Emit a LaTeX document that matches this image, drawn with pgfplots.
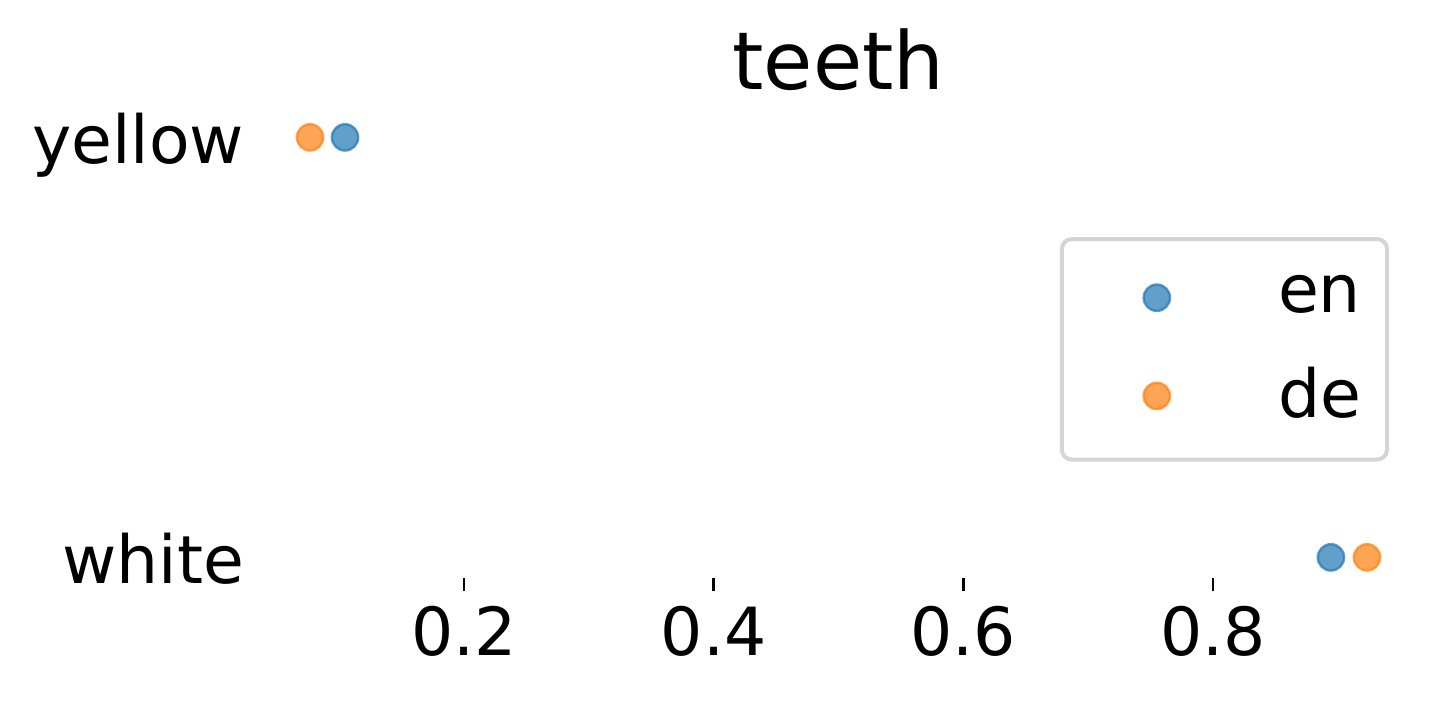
\documentclass[border=0pt]{standalone}
\usepackage{pgfplots}
\pgfplotsset{compat=1.18}
\usepackage{fontspec}
\setmainfont{DejaVu Sans}
\definecolor{tabblue}{HTML}{1F77B4}
\definecolor{taborange}{HTML}{FF7F0E}
\definecolor{legendgray}{HTML}{D5D5D5}
\newcommand{\basefont}{\fontsize{16.6}{20}\selectfont}
\begin{document}
\begin{tikzpicture}
\begin{axis}[
  name=ax,
  scale only axis,
  width=293.35pt, height=115.5pt,
  xmin=0.03, xmax=0.97, ymin=-0.05, ymax=1.05,
  axis line style={draw=none},
  xtick={0.2,0.4,0.6,0.8},
  xticklabels={0.2,0.4,0.6,0.8},
  ytick={0,1},
  yticklabels={white,yellow},
  tick align=outside,
  xtick pos=bottom,
  major tick length=3.25pt,
  ytick style={draw=none},
  xtick style={line width=0.6pt, black},
  xticklabel style={font=\basefont, anchor=north, inner sep=0pt, yshift=-3.45pt},
  yticklabel style={font=\basefont, anchor=base east, inner xsep=3pt, xshift=4.5pt, yshift=-6.5pt},
  title={teeth},
  title style={font=\fontsize{20}{24}\selectfont, anchor=base, at={(0.5,1)}, yshift=0.65pt},
  legend style={at={(rel axis cs:0.9692,0.7387)}, anchor=north east,
    draw=legendgray, line width=1pt, rounded corners=2.5pt,
    inner xsep=6.5pt, inner ysep=9.05pt, row sep=12.1pt,
    font=\basefont, nodes={inner sep=0pt},
    /tikz/every odd column/.style={column sep=4.55pt}},
  legend cell align=left,
  legend image code/.code={
    \path[draw=none, fill=none] (0pt,0pt) -- (43pt,0pt);
    \begin{pgfinterruptboundingbox}
    \draw[#1] plot coordinates {(17.25pt,-0.2pt)};
    \end{pgfinterruptboundingbox}
  },
]
\addplot[only marks, mark=*, mark size=3.3pt, line width=0.6pt,
  color=tabblue, fill opacity=0.7, draw opacity=0.7]
  coordinates {(0.1047,1) (0.8945,0)};
\addlegendentry{en}
\addplot[only marks, mark=*, mark size=3.3pt, line width=0.6pt,
  color=taborange, fill opacity=0.7, draw opacity=0.7]
  coordinates {(0.0767,1) (0.9234,0)};
\addlegendentry{de}
\end{axis}
\pgfresetboundingbox
\useasboundingbox ([shift={(-62.95pt,-31.2pt)}]ax.south west) rectangle ([shift={(299.3pt,144.6pt)}]ax.south west);
\end{tikzpicture}
\end{document}
